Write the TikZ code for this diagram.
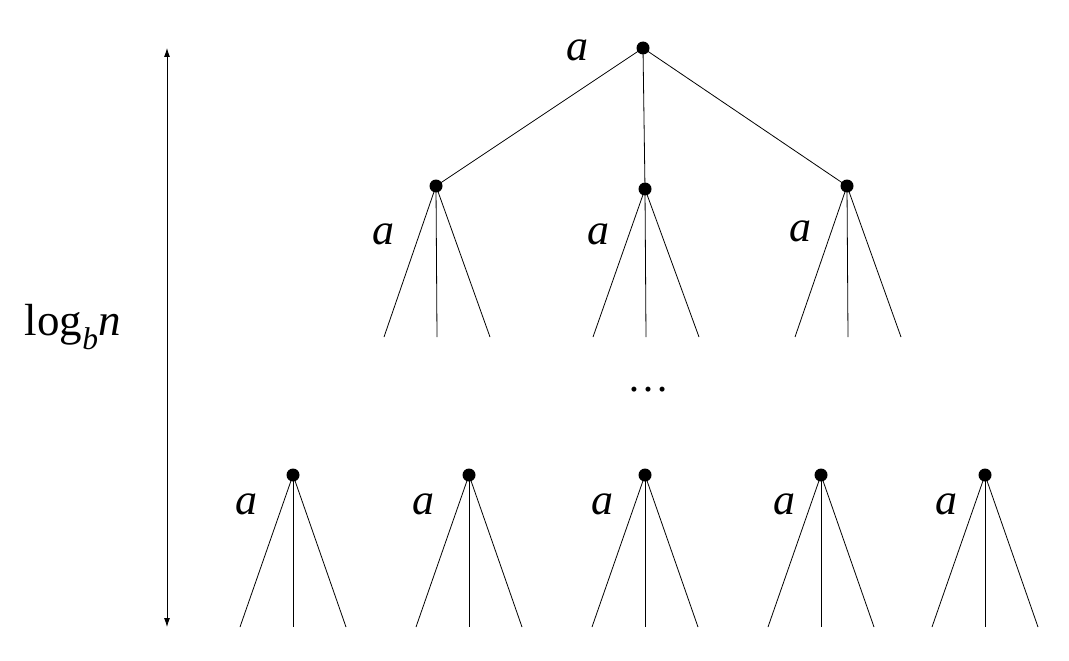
\documentclass[tikz,border=0pt]{standalone}
\usepackage{fontspec}
\setmainfont{Liberation Serif}
\usetikzlibrary{arrows.meta}
\tikzset{
  dot/.style = {circle, fill=black, inner sep=0pt, minimum size=13pt},
  lab/.style = {font=\fontsize{44}{52}\selectfont\itshape},
}
\begin{document}
\begin{tikzpicture}[x=1pt, y=-1pt, line width=0.8pt]
		\useasboundingbox (0,0) rectangle (1069,661);
		% height of the tree
		\coordinate (htop) at (167,48);
		\coordinate (hbot) at (167,627);
		\draw[{Latex[length=9pt,width=6pt]}-{Latex[length=9pt,width=6pt]}] (htop) -- (hbot);
		\node[font=\fontsize{45}{54}\selectfont] (hlab) at (73,327) {log\textsubscript{\textit{b}}\textit{n}};
		% root and first level
		\node[dot] (root) at (643,48) {};
		\node[lab] (aroot) at (577,50) {a};
		\foreach \name/\x/\y/\lx/\ly in {c1/436/186/383/234, c2/645/189/598/234, c3/847/186/800/231} {
			\node[dot] (\name) at (\x,\y) {};
			\draw (root.center) -- (\name.center);
			\node[lab] (a\name) at (\lx,\ly) {a};
			\coordinate (\name l) at (\x-52,337);
			\coordinate (\name m) at (\x+1,337);
			\coordinate (\name r) at (\x+54,337);
			\draw (\name l) -- (\name.center) -- (\name r);
			\draw (\name.center) -- (\name m);
		}
		\node[font=\fontsize{42}{50}\selectfont] (gap) at (648,390) {\dots};
		% last level
		\foreach \name/\x/\lx in {d1/293/246, d2/469/423, d3/645/602, d4/821/784, d5/985/946} {
			\node[dot] (\name) at (\x,475) {};
			\node[lab] (a\name) at (\lx,504) {a};
			\coordinate (\name l) at (\x-53,627);
			\coordinate (\name m) at (\x,627);
			\coordinate (\name r) at (\x+53,627);
			\draw (\name l) -- (\name.center) -- (\name r);
			\draw (\name.center) -- (\name m);
		}
	\end{tikzpicture}
\end{document}
